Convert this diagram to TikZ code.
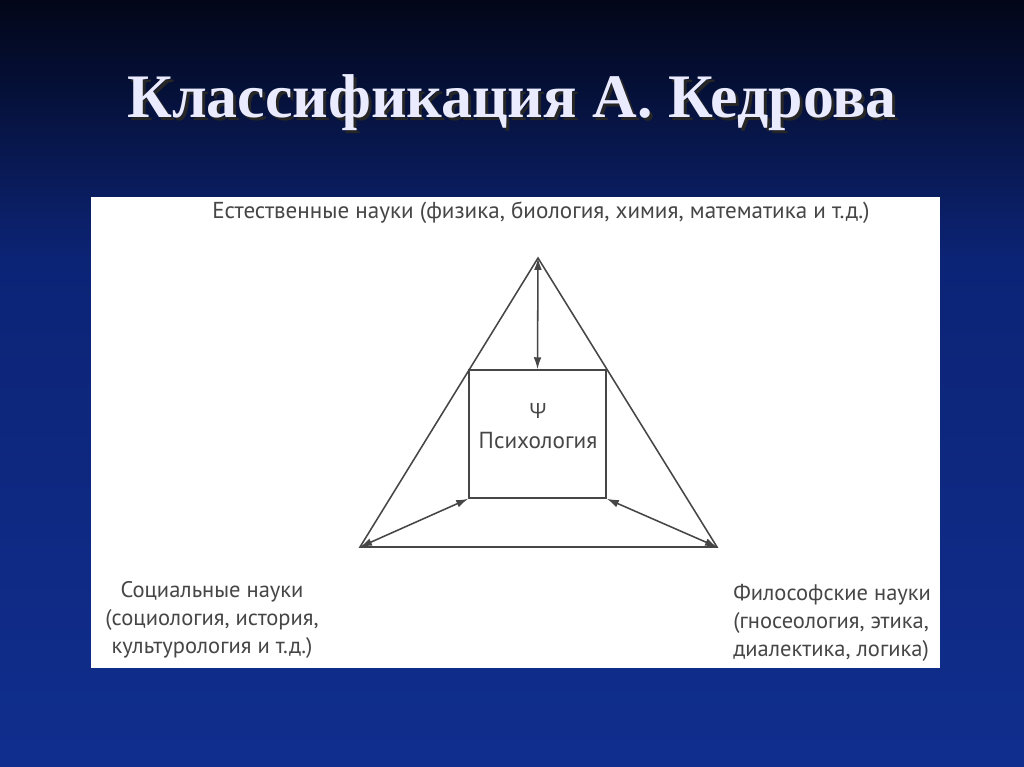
\documentclass[tikz,border=0pt]{standalone}
\usepackage{fontspec}
\setmainfont{Liberation Serif}
\newfontfamily\labelfont{PT Sans}
\newfontfamily\greekfont{Open Sans}
\usetikzlibrary{arrows.meta}

\definecolor{bgtop}{RGB}{2,6,24}
\definecolor{bgmid}{RGB}{12,36,118}
\definecolor{bgbot}{RGB}{16,46,142}
\definecolor{inkgray}{RGB}{70,70,70}

\begin{document}
\begin{tikzpicture}[x=0.025cm,y=-0.025cm,
  line/.style={draw=inkgray, line width=1.1pt},
  arr/.style={line, {Latex[length=8.5pt,width=5.5pt]}-{Latex[length=8.5pt,width=5.5pt]}},
  lbl/.style={font=\labelfont\fontsize{16}{20}\selectfont, text=inkgray, inner sep=0pt},
  head/.style={font=\bfseries\fontsize{44}{50}\selectfont, anchor=base}]
% Фон слайда
\useasboundingbox (0,0) rectangle (1024,767);
\shade[top color=bgtop, bottom color=bgmid] (0,0) rectangle (1024,260);
\shade[top color=bgmid, bottom color=bgbot] (0,260) rectangle (1024,767);

% Заголовок с тенью
\node[head, text=black!85] (shadow) at (515,121) {Классификация А. Кедрова};
\node[head, text=white!92!blue] (title) at (512,118) {Классификация А. Кедрова};

% Белое поле
\fill[white] (91,197) rectangle (940,668);

% Треугольник
\coordinate (top) at (538,258);
\coordinate (left) at (360,547);
\coordinate (right) at (717,547);
\draw[line] (top) -- (left) -- (right) -- cycle;

% Квадрат психологии
\node[line, minimum width=3.425cm, minimum height=3.2cm] (psy) at (537.5,434) {};
\node[lbl, align=center, font=\labelfont\fontsize{16.5}{21}\selectfont] (psylbl) at (538,426) {{\greekfont\fontsize{15}{15}\selectfont Ψ}\\Психология};

% Стрелки
\draw[arr] (top) -- (psy.north);
\draw[arr] (psy.south west) -- (left);
\draw[arr] (psy.south east) -- (right);

% Подписи
\node[lbl, font=\labelfont\fontsize{16.4}{20}\selectfont] (nat) at (541,213) {Естественные науки (физика, биология, химия, математика и т.д.)};
\node[lbl, align=center] (soc) at (212,620) {Социальные науки\\(социология, история,\\культурология и т.д.)};
\node[lbl, align=left, anchor=west] (phil) at (733,623) {Философские науки\\(гносеология, этика,\\диалектика, логика)};
\end{tikzpicture}
\end{document}
